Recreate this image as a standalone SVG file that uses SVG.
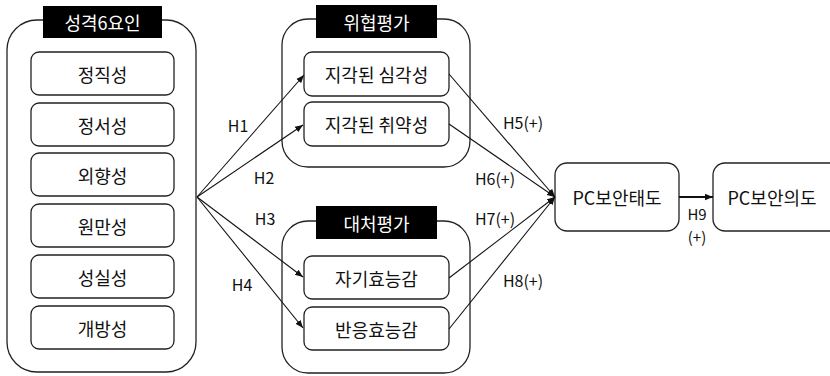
<svg xmlns="http://www.w3.org/2000/svg" width="830" height="376" viewBox="0 0 830 376">
<style>
.outer{fill:#fff;stroke:#222;stroke-width:1.3}
.box{fill:#fff;stroke:#222;stroke-width:1.3}
.ttl{fill:#000}
.t{font-family:"Noto Sans CJK KR","Noto Sans",sans-serif;font-size:18px;fill:#111;text-anchor:middle;dominant-baseline:central}
.tw{font-family:"Noto Sans CJK KR","Noto Sans",sans-serif;font-size:18px;fill:#fff;text-anchor:middle;dominant-baseline:central}
.lb{font-family:"Noto Sans CJK KR","Noto Sans",sans-serif;font-size:16px;fill:#111;text-anchor:middle;dominant-baseline:central}
.c{stroke:#111;stroke-width:1.1;fill:none;marker-end:url(#ah)}
</style>
<defs>
<marker id="ah" viewBox="0 0 10 10" refX="10" refY="5" markerWidth="8" markerHeight="8" markerUnits="userSpaceOnUse" orient="auto">
<path d="M0,1 L10,5 L0,9 z" fill="#111"/>
</marker>
<marker id="ah2" viewBox="0 0 10 10" refX="10" refY="5" markerWidth="8" markerHeight="8" markerUnits="userSpaceOnUse" orient="auto">
<path d="M0,1 L10,5 L0,9 z" fill="#111"/>
</marker>
</defs>
<rect width="830" height="376" fill="#fff"/>

<g id="personality">
<rect class="outer" x="7" y="20" width="189" height="352" rx="30"/>
<rect class="ttl" x="43" y="6" width="119" height="32"/>
<text class="tw" x="102.5" y="22">성격6요인</text>
</g>
<g id="n1"><rect class="box" x="31" y="52" width="143" height="43" rx="8"/><text class="t" x="102.5" y="73.5">정직성</text></g>
<g id="n2"><rect class="box" x="31" y="103" width="143" height="43" rx="8"/><text class="t" x="102.5" y="124.5">정서성</text></g>
<g id="n3"><rect class="box" x="31" y="153" width="143" height="43" rx="8"/><text class="t" x="102.5" y="174.5">외향성</text></g>
<g id="n4"><rect class="box" x="31" y="204" width="143" height="43" rx="8"/><text class="t" x="102.5" y="225.5">원만성</text></g>
<g id="n5"><rect class="box" x="31" y="255" width="143" height="43" rx="8"/><text class="t" x="102.5" y="276.5">성실성</text></g>
<g id="n6"><rect class="box" x="31" y="306" width="143" height="43" rx="8"/><text class="t" x="102.5" y="327.5">개방성</text></g>

<g id="threat">
<rect class="outer" x="282" y="19" width="188" height="148" rx="26"/>
<rect class="ttl" x="316" y="5" width="121" height="33"/>
<text class="tw" x="376.5" y="21.5">위협평가</text>
</g>
<g id="severity"><rect class="box" x="304" y="52" width="145" height="44" rx="8"/><text class="t" x="376.5" y="74">지각된 심각성</text></g>
<g id="vulnerability"><rect class="box" x="304" y="102" width="145" height="44" rx="8"/><text class="t" x="376.5" y="124">지각된 취약성</text></g>

<g id="coping">
<rect class="outer" x="282" y="221" width="188" height="152" rx="26"/>
<rect class="ttl" x="316" y="206" width="121" height="33"/>
<text class="tw" x="376.5" y="222.5">대처평가</text>
</g>
<g id="selfefficacy"><rect class="box" x="304" y="256" width="145" height="43" rx="8"/><text class="t" x="376.5" y="277.5">자기효능감</text></g>
<g id="responseefficacy"><rect class="box" x="304" y="307" width="145" height="43" rx="8"/><text class="t" x="376.5" y="328.5">반응효능감</text></g>

<g id="attitude"><rect class="box" x="555" y="163" width="124" height="68" rx="12"/><text class="t" x="617" y="197">PC보안태도</text></g>
<g id="intention"><rect class="box" x="713" y="163" width="130" height="68" rx="12"/><text class="t" x="772" y="197">PC보안의도</text></g>

<g id="connectors">
<line class="c" x1="197" y1="197" x2="304" y2="75"/>
<line class="c" x1="197" y1="197" x2="303" y2="125"/>
<line class="c" x1="197" y1="197" x2="303" y2="277"/>
<line class="c" x1="197" y1="197" x2="303" y2="328"/>
<line class="c" x1="449" y1="74" x2="555" y2="197"/>
<line class="c" x1="449" y1="124" x2="555" y2="197"/>
<line class="c" x1="449" y1="278" x2="555" y2="197"/>
<line class="c" x1="449" y1="329" x2="555" y2="197"/>
<line x1="679" y1="197" x2="713" y2="197" stroke="#111" stroke-width="2" marker-end="url(#ah2)"/>
<text class="lb" x="238" y="125">H1</text>
<text class="lb" x="264" y="177">H2</text>
<text class="lb" x="265" y="218">H3</text>
<text class="lb" x="242" y="284">H4</text>
<text class="lb" x="523" y="122">H5(+)</text>
<text class="lb" x="495" y="178">H6(+)</text>
<text class="lb" x="495" y="218">H7(+)</text>
<text class="lb" x="523" y="280">H8(+)</text>
<text class="lb" x="697" y="213" style="font-size:15px">H9</text>
<text class="lb" x="697" y="236" style="font-size:15px">(+)</text>
</g>
</svg>
